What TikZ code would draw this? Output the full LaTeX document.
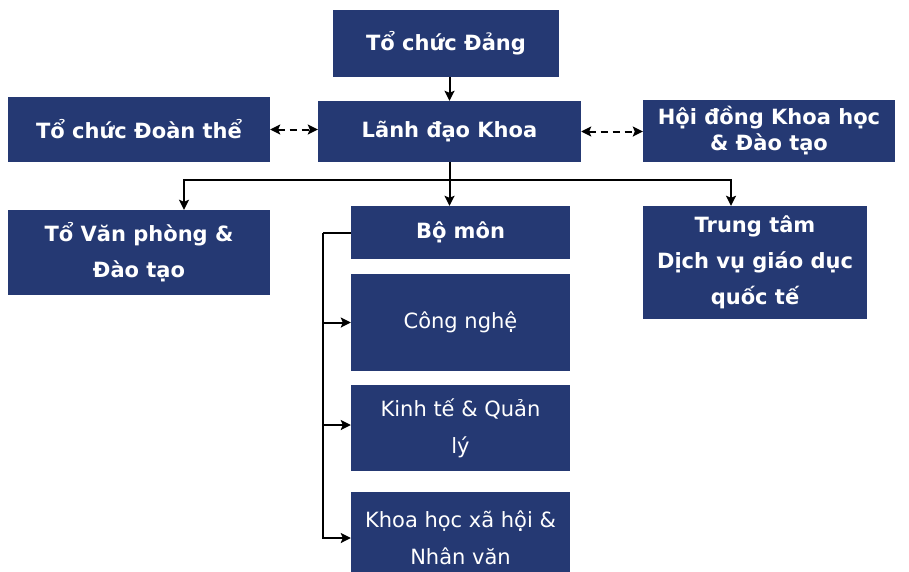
\documentclass[tikz,border=0pt]{standalone}
\usepackage{fontspec}
\setmainfont{DejaVu Sans}
\usetikzlibrary{positioning,arrows.meta}
\definecolor{khoablue}{RGB}{37,57,115}
\tikzset{
  unit/.style={fill=khoablue, text=white, align=center, inner sep=0pt,
    font=\bfseries\fontsize{21}{36}\selectfont},
  subunit/.style={unit, font=\fontsize{21}{37}\selectfont},
  link/.style={line width=2pt, ->},
  peer/.style={line width=2pt, <->, dash pattern=on 7pt off 5pt},
}

\begin{document}
\begin{tikzpicture}[x=1pt,y=-1pt,>={Stealth[length=10pt,width=10pt,inset=2pt]}]
 \useasboundingbox (0,0) rectangle (909,571);
 % top row
 \node[unit, minimum width=226pt, minimum height=67pt] (dang) at (446,43.5) {Tổ chức Đảng};
 \node[unit, minimum width=263pt, minimum height=61pt] (lanhdao) at (449.5,131.5) {Lãnh đạo Khoa};
 \node[unit, minimum width=262pt, minimum height=65pt] (doanthe) at (139,129.5) {Tổ chức Đoàn thể};
 \node[unit, minimum width=252pt, minimum height=62pt, font=\bfseries\fontsize{21}{26}\selectfont] (hoidong) at (769,131) {Hội đồng Khoa học\\\& Đào tạo};
 % second row
 \node[unit, minimum width=262pt, minimum height=85pt] (vanphong) at (139,252.5) {Tổ Văn phòng \&\\Đào tạo};
 \node[unit, minimum width=219pt, minimum height=53pt] (bomon) at (460.5,232.5) {Bộ môn};
 \node[unit, minimum width=224pt, minimum height=113pt] (trungtam) at (755,262.5) {Trung tâm\\Dịch vụ giáo dục\\quốc tế};
 % departments
 \node[subunit, minimum width=219pt, minimum height=97pt] (congnghe) at (460.5,322.5) {Công nghệ};
 \node[subunit, minimum width=219pt, minimum height=86pt] (kinhte) at (460.5,428) {Kinh tế \& Quản\\lý};
 \node[subunit, minimum width=219pt, minimum height=92pt] (khxh) at (460.5,538) {Khoa học xã hội \&\\Nhân văn};

 \draw[link] (dang.south -| lanhdao.north) -- (lanhdao.north);
 \draw[peer] (doanthe.east) -- (lanhdao.west |- doanthe.east);
 \draw[peer] (lanhdao.east) -- (hoidong.west |- lanhdao.east);

 \path (lanhdao.south) ++(0,18) coordinate (split);
 \draw[link] (lanhdao.south) -- (lanhdao.south |- bomon.north);
 \draw[link] (split) -| ([xshift=45pt]vanphong.north);
 \draw[link] (split) -| ([xshift=-24pt]trungtam.north);

 \draw[line width=2pt] (bomon.west) -- ++(-28,0) coordinate (rail);
 \draw[link] (rail) |- (khxh.west);
 \draw[link] (rail |- congnghe.west) -- (congnghe.west);
 \draw[link] (rail |- 0,425) -- (kinhte.west |- 0,425);
\end{tikzpicture}
\end{document}
